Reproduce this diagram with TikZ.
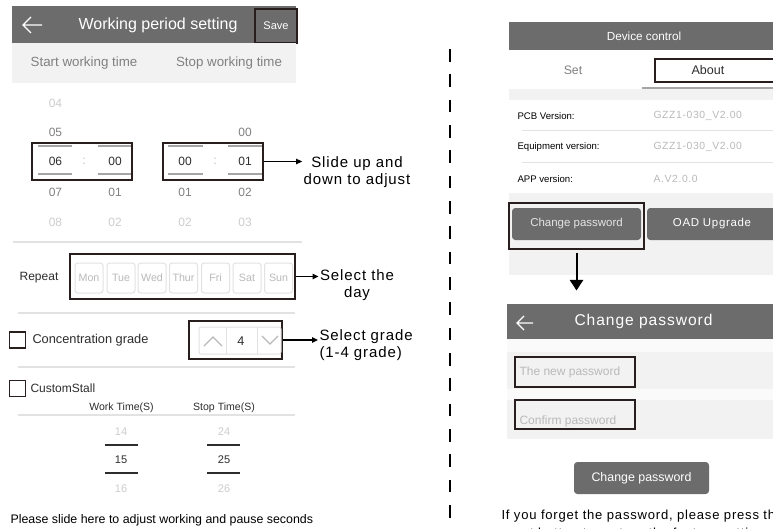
\documentclass[tikz,border=0pt]{standalone}
\usepackage{fontspec}
\setmainfont{Liberation Sans}
\newfontfamily\notefont[LetterSpace=6]{Liberation Sans}
\usetikzlibrary{arrows.meta}

\definecolor{bardark}{RGB}{108,108,108}
\definecolor{bandgray}{RGB}{242,242,242}
\definecolor{stripwhite}{RGB}{250,250,250}
\definecolor{rulegray}{RGB}{226,226,226}
\definecolor{pickline}{RGB}{165,165,165}
\definecolor{faintnum}{RGB}{205,205,205}
\definecolor{midnum}{RGB}{128,128,128}
\definecolor{darknum}{RGB}{45,45,45}
\definecolor{boxline}{RGB}{40,30,30}
\definecolor{hintgray}{RGB}{185,185,185}
\definecolor{btntext}{RGB}{228,228,228}

\tikzset{every picture/.style={line width=0.75pt}}
\tikzset{
  callout/.style={draw=boxline,line width=1pt,inner sep=0pt},
  pointer/.style={draw=black,line width=1pt,-{Triangle[length=4.5pt,width=4pt]}},
  note/.style={inner sep=0.75pt,align=center,text=black,font=\notefont\fontsize{11.25}{12.75}\selectfont},
  uitext/.style={inner sep=0.75pt,font=\fontsize{9.6}{11}\selectfont},
  picknum/.style={inner sep=0.75pt,font=\fontsize{9}{10}\selectfont},
  secnum/.style={inner sep=0.75pt,font=\fontsize{8.3}{9}\selectfont},
  infolabel/.style={anchor=west,inner sep=0.75pt,text=black,font=\fontsize{7.2}{8}\selectfont},
  infovalue/.style={anchor=west,inner sep=0.75pt,text=hintgray,font=\notefont\fontsize{7.8}{8}\selectfont},
  daybtn/.style={draw=rulegray,rounded corners=2pt,minimum width=21pt,minimum height=22.5pt,inner sep=0pt,text=hintgray,font=\fontsize{8}{9}\selectfont},
  greybtn/.style={fill=bardark,rounded corners=2.5pt,inner sep=0pt},
  tickbox/.style={draw=boxline,line width=0.9pt,minimum size=12pt,inner sep=0pt},
  backarrow/.style={draw=white,line width=1pt},
  separator/.style={draw=rulegray,line width=1pt},
}

\begin{document}
\begin{tikzpicture}[x=0.75pt,y=0.75pt,yscale=-1,xscale=1]
\useasboundingbox (0,0) rectangle (773,528);
\fill[white] (0,0) rectangle (773,528);

%Shape: Rectangle (left title bar)
\fill[bardark] (12,6) rectangle (296,43);
%Straight Lines (back arrow)
\draw[backarrow] (42,25) -- (23,25) (31,17) -- (23,25) -- (31,33);
% Text Node
\node[inner sep=0.75pt,text=white,font=\fontsize{12}{13}\selectfont] (worktitle) at (158,25) {Working period setting};
% Text Node
\node[callout,fill=bardark,minimum width=31.5pt,minimum height=25.5pt,text=white,font=\fontsize{8.3}{9}\selectfont] (save) at (276,26) {Save};
%Shape: Rectangle (column heads)
\fill[bandgray] (12,43) rectangle (296,83);
% Text Node
\node[uitext,text=midnum,font=\fontsize{10}{11}\selectfont] (starthead) at (84,63) {Start working time};
% Text Node
\node[uitext,text=midnum,font=\fontsize{10}{11}\selectfont] (stophead) at (229,63) {Stop working time};

%Shape: Rectangle (time pickers)
\node[callout,minimum width=75pt,minimum height=27.75pt] (onbox) at (82,161.5) {};
\node[callout,minimum width=75pt,minimum height=27.75pt] (offbox) at (213,161.5) {};
%Straight Lines (picker rules)
\draw[pickline,line width=1.1pt] (38,146) -- (72,146) (98,146) -- (131,146) (168,146) -- (203,146) (228,146) -- (262,146);
\draw[pickline,line width=1.1pt] (38,174) -- (72,174) (98,174) -- (131,174) (168,174) -- (203,174) (228,174) -- (262,174);
% Text Node
\node[picknum,text=faintnum] (onhr04) at (55.5,103.5) {04};
\node[picknum,text=midnum] (onhr05) at (55.5,132.5) {05};
\node[picknum,text=darknum] (onhr06) at (55.5,161.5) {06};
\node[picknum,text=midnum] (onhr07) at (55.5,192) {07};
\node[picknum,text=faintnum] (onhr08) at (55.5,222) {08};
\node[picknum,text=hintgray] (oncolon) at (84,161.5) {:};
\node[picknum,text=darknum] (onmn00) at (115,161.5) {00};
\node[picknum,text=midnum] (onmn01) at (115,192) {01};
\node[picknum,text=faintnum] (onmn02) at (115,222) {02};
\node[picknum,text=darknum] (offhr00) at (185,161.5) {00};
\node[picknum,text=midnum] (offhr01) at (185,192) {01};
\node[picknum,text=faintnum] (offhr02) at (185,222) {02};
\node[picknum,text=hintgray] (offcolon) at (215,161.5) {:};
\node[picknum,text=midnum] (offmn00) at (245,132.5) {00};
\node[picknum,text=darknum] (offmn01) at (245,161.5) {01};
\node[picknum,text=midnum] (offmn02) at (245,192) {02};
\node[picknum,text=faintnum] (offmn03) at (245,222) {03};
% Text Node
\node[note] (slidenote) at (357,172.5) {Slide up and\\down to adjust};
%Straight Lines
\draw[pointer] (offbox.east) -- (offbox.east -| slidenote.west);

%Straight Lines
\draw[separator] (13,242) -- (302,242);
% Text Node
\node[uitext,text=darknum,font=\fontsize{9}{10}\selectfont] (repeat) at (39,278) {Repeat};
\node[callout,minimum width=168.75pt,minimum height=33.75pt] (daysbox) at (182.5,276.5) {};
\node[daybtn] (mon) at (89,278) {Mon};
\node[daybtn] (tue) at (121,278) {Tue};
\node[daybtn] (wed) at (152,278) {Wed};
\node[daybtn] (thur) at (183.5,278) {Thur};
\node[daybtn] (fri) at (215.5,278) {Fri};
\node[daybtn] (sat) at (247,278) {Sat};
\node[daybtn] (sun) at (278.5,278) {Sun};
% Text Node
\node[note] (daynote) at (357,285.5) {Select the\\day};
%Straight Lines
\draw[pointer] (daysbox.east) -- (daysbox.east -| daynote.west);

%Straight Lines
\draw[separator] (18,313) -- (295,313);
\node[tickbox] (conctick) at (17.5,340) {};
\node[uitext,anchor=west,text=darknum] (conclabel) at (31,340) {Concentration grade};
\node[callout,minimum width=69.75pt,minimum height=28.5pt] (gradebox) at (235.5,340) {};
%Shape: Rectangle (spinner)
\draw[rulegray,rounded corners=1.5pt] (199,327) rectangle (281,354);
\draw[rulegray] (226,327) -- (226,354) (257,327) -- (257,354);
\draw[hintgray,line width=1pt] (204,346) -- (213,337) -- (222,346);
\draw[hintgray,line width=1pt] (262,336) -- (270,344) -- (278,336);
\node[uitext,text=darknum,font=\fontsize{9.5}{10}\selectfont] (gradeval) at (241,341) {4};
% Text Node
\node[note,align=left,anchor=west] (gradenote) at (318,345) {Select grade\\(1-4 grade)};
%Straight Lines
\draw[pointer] (gradebox.east) -- (gradebox.east -| gradenote.west);

%Straight Lines
\draw[separator] (18,367) -- (295,367);
\node[tickbox] (customtick) at (17.5,388.5) {};
\node[uitext,anchor=west,text=darknum,font=\fontsize{9}{10}\selectfont] (customlabel) at (29,388) {CustomStall};
\node[uitext,text=darknum,font=\fontsize{7.9}{9}\selectfont] (worklabel) at (121.5,408) {Work Time(S)};
\node[uitext,text=darknum,font=\fontsize{7.9}{9}\selectfont] (stoplabel) at (224,408) {Stop Time(S)};
\draw[separator] (18,415) -- (295,415);
\node[secnum,text=faintnum] (work14) at (121,432) {14};
\node[secnum,text=darknum] (work15) at (121,460) {15};
\node[secnum,text=faintnum] (work16) at (121,489) {16};
\node[secnum,text=faintnum] (stop24) at (224,432) {24};
\node[secnum,text=darknum] (stop25) at (224,460) {25};
\node[secnum,text=faintnum] (stop26) at (224,489) {26};
\draw[darknum,line width=0.9pt] (105,445) -- (138,445) (105,473) -- (138,473) (207,445) -- (240,445) (207,473) -- (240,473);
% Text Node
\node[anchor=west,inner sep=0.75pt,font=\fontsize{9.3}{10}\selectfont] (slidehint) at (9,520) {Please slide here to adjust working and pause seconds};

%Straight Lines (divider)
\draw[line width=1.1pt,dash pattern=on 9.5pt off 9.5pt] (450,49) -- (450,528);

%Shape: Rectangle (device bar)
\fill[bardark] (509,22) rectangle (773,50);
\node[inner sep=0.75pt,text=white,font=\fontsize{8.8}{10}\selectfont] (devtitle) at (644,36) {Device control};
\node[uitext,text=midnum,font=\fontsize{9.2}{10}\selectfont] (settab) at (573,70) {Set};
\draw[boxline,line width=1pt] (655,59) rectangle (790,82);
\node[uitext,text=darknum,font=\fontsize{9.4}{10}\selectfont] (abouttab) at (708,70.5) {About};
\draw[pickline,line width=1pt] (642,88) -- (773,88);
\fill[bandgray] (509,89) rectangle (773,100);
\node[infolabel] (pcblabel) at (516,116) {PCB Version:};
\node[infovalue] (pcbvalue) at (652,116) {GZZ1-030\_V2.00};
\draw[separator,line width=0.75pt] (522,130) -- (773,130) (522,162) -- (773,162);
\node[infolabel] (equiplabel) at (516,147) {Equipment version:};
\node[infovalue] (equipvalue) at (652,147) {GZZ1-030\_V2.00};
\node[infolabel] (applabel) at (516,179) {APP version:};
\node[infovalue] (appvalue) at (652,179) {A.V2.0.0};
\fill[bandgray] (509,193) rectangle (773,275);
\node[greybtn,minimum width=96.75pt,minimum height=24pt,text=btntext,font=\fontsize{8.6}{9}\selectfont] (chgbtn) at (576.5,224) {Change password};
\node[greybtn,minimum width=97.5pt,minimum height=24pt,text=white,font=\notefont\fontsize{8.6}{9}\selectfont] (oadbtn) at (712,224) {OAD Upgrade};
\node[callout,minimum width=101.25pt,minimum height=34.5pt] (chgframe) at (576.5,226) {};

%Shape: Rectangle (password bar)
\node[fill=bardark,inner sep=0pt,minimum width=204.75pt,minimum height=26.25pt,text=white,font=\notefont\fontsize{11.7}{12}\selectfont] (pwdbar) at (643.5,321.5) {Change password};
\draw[backarrow] (533,323) -- (517,323) (524,316) -- (517,323) -- (524,330);
%Straight Lines
\draw[line width=1.5pt,-{Triangle[length=8pt,width=10pt]},shorten <=2.25pt,shorten >=9.75pt] (chgframe.south) -- (chgframe.south |- pwdbar.north);

\fill[stripwhite] (507,339) rectangle (773,352);
\fill[bandgray] (507,352) rectangle (773,439);
\fill[stripwhite] (507,389) rectangle (773,400);
\node[callout,minimum width=90pt,minimum height=22.5pt] (newpwd) at (575,372) {};
\node[uitext,anchor=west,text=hintgray,font=\fontsize{9}{10}\selectfont] (newpwdhint) at (518,372) {The new password};
\node[callout,minimum width=90pt,minimum height=21.75pt] (confirmpwd) at (575,414.5) {};
\node[uitext,anchor=west,text=hintgray,font=\fontsize{9}{10}\selectfont] (confirmhint) at (518,421) {Confirm password};
\node[greybtn,minimum width=101.25pt,minimum height=24pt,text=white,font=\fontsize{9.3}{10}\selectfont] (okbtn) at (641.5,478) {Change password};
% Text Node
\node[anchor=west,inner sep=0.75pt,align=left,font=\notefont\fontsize{9.8}{13}\selectfont] (forgetnote) at (500,525) {If you forget the password, please press the\\reset button to restore the factory settings};

\end{tikzpicture}
\end{document}
